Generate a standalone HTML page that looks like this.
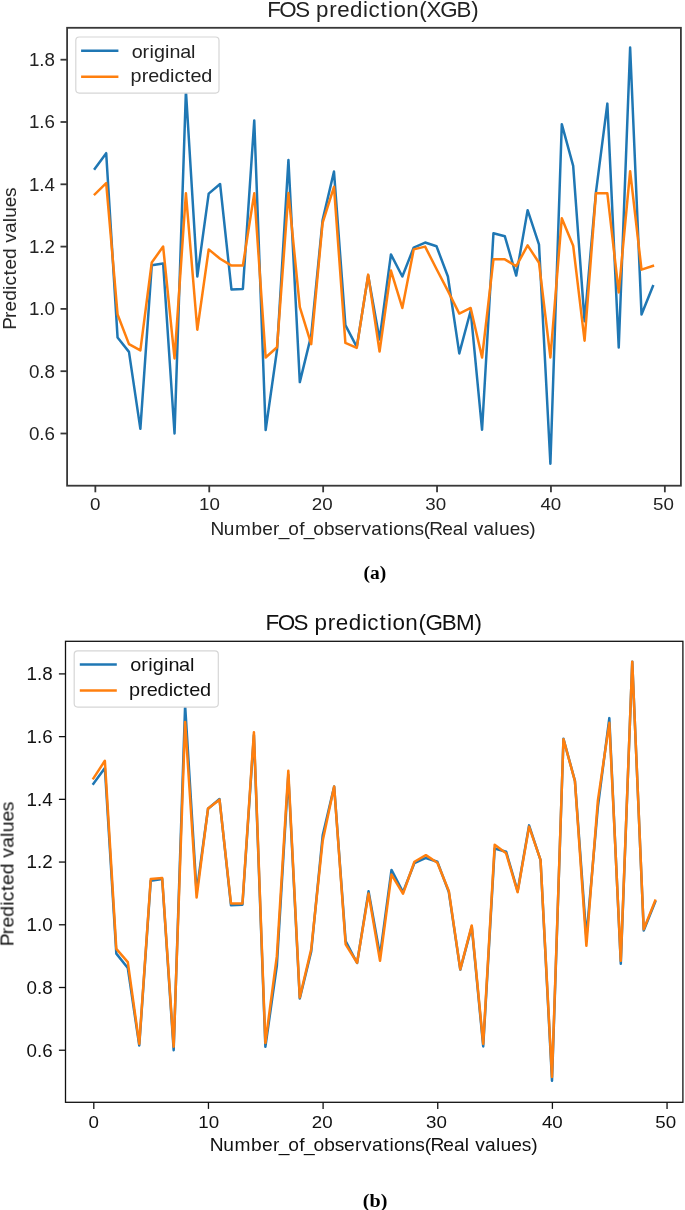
<!DOCTYPE html>
<html><head><meta charset="utf-8"><title>FOS prediction</title>
<style>html,body{margin:0;padding:0;background:#fff;} svg{display:block;}</style>
</head><body>
<svg width="685" height="1210" viewBox="0 0 685 1210">
<defs><filter id="soft" x="0" y="0" width="685" height="1210" filterUnits="userSpaceOnUse" color-interpolation-filters="sRGB"><feGaussianBlur stdDeviation="0.45"/></filter></defs>
<g filter="url(#soft)">
<rect width="685" height="1210" fill="#fff"/>
<clipPath id="clip1"><rect x="67.1" y="27.8" width="613.8" height="457.9"/></clipPath>
<polyline clip-path="url(#clip1)" points="94.80,168.73 106.19,153.15 117.58,337.56 128.97,351.89 140.36,428.83 151.75,265.29 163.14,263.42 174.53,433.50 185.92,90.85 197.31,276.50 208.70,193.64 220.09,183.99 231.48,289.59 242.87,288.96 254.26,120.44 265.65,430.07 277.04,349.71 288.43,160.00 299.82,382.10 311.21,335.38 322.60,220.12 333.99,171.53 345.38,325.10 356.77,346.90 368.16,275.57 379.55,339.43 390.94,254.39 402.33,276.50 413.72,247.53 425.11,242.55 436.50,246.29 447.89,276.50 459.28,353.44 470.67,310.77 482.06,429.76 493.45,233.21 504.84,236.32 516.23,275.57 527.62,210.15 539.01,244.73 550.40,463.72 561.79,124.18 573.18,165.92 584.57,321.36 595.96,192.09 607.35,103.62 618.74,347.53 630.13,47.55 641.52,314.51 652.91,286.16" fill="none" stroke="#1f77b4" stroke-width="2.5" stroke-linejoin="round" stroke-linecap="square"/>
<polyline clip-path="url(#clip1)" points="94.80,194.27 106.19,183.05 117.58,314.51 128.97,344.10 140.36,350.33 151.75,262.49 163.14,246.60 174.53,358.43 185.92,193.33 197.31,329.77 208.70,249.40 220.09,258.75 231.48,265.60 242.87,265.60 254.26,193.33 265.65,357.49 277.04,347.21 288.43,193.02 299.82,307.03 311.21,344.10 322.60,222.93 333.99,186.79 345.38,342.85 356.77,347.84 368.16,274.63 379.55,351.58 390.94,270.59 402.33,307.97 413.72,249.40 425.11,246.60 436.50,269.03 447.89,290.83 459.28,313.57 470.67,307.97 482.06,357.49 493.45,259.37 504.84,259.37 516.23,266.22 527.62,245.35 539.01,262.80 550.40,357.49 561.79,218.25 573.18,245.67 584.57,340.67 595.96,193.33 607.35,193.33 618.74,292.39 630.13,171.22 641.52,269.65 652.91,265.91" fill="none" stroke="#ff7f0e" stroke-width="2.5" stroke-linejoin="round" stroke-linecap="square"/>
<rect x="75.8" y="37.0" width="143.2" height="56.099999999999994" rx="3.5" ry="3.5" fill="#fff" fill-opacity="1" stroke="#d6d6d6" stroke-width="1.2"/>
<line x1="81.1" x2="118.4" y1="50.8" y2="50.8" stroke="#1f77b4" stroke-width="2.5" stroke-linecap="butt"/>
<line x1="81.1" x2="118.4" y1="76.7" y2="76.7" stroke="#ff7f0e" stroke-width="2.5" stroke-linecap="butt"/>
<text transform="scale(1.0965,1)" x="120.09 130.04 136.39 140.46 150.55 154.63 164.30 174.22" y="57.60" font-family="'Liberation Sans', sans-serif" font-size="18.00" fill="#222">original</text>
<text transform="scale(1.1007,1)" x="118.62 128.75 134.72 144.43 154.52 158.45 167.77 173.09 182.80" y="82.20" font-family="'Liberation Sans', sans-serif" font-size="18.00" fill="#222">predicted</text>
<rect x="67.1" y="27.8" width="613.8" height="457.9" fill="none" stroke="#383838" stroke-width="1.8" stroke-linejoin="miter"/>
<line x1="95.35" x2="95.35" y1="485.7" y2="492.3" stroke="#383838" stroke-width="1.8"/>
<text transform="scale(1.0908,1)" x="82.63" y="510.50" font-family="'Liberation Sans', sans-serif" font-size="17.20" fill="#222">0</text>
<line x1="209.25" x2="209.25" y1="485.7" y2="492.3" stroke="#383838" stroke-width="1.8"/>
<text transform="scale(1.0908,1)" x="182.45 192.02" y="510.50" font-family="'Liberation Sans', sans-serif" font-size="17.20" fill="#222">10</text>
<line x1="323.15" x2="323.15" y1="485.7" y2="492.3" stroke="#383838" stroke-width="1.8"/>
<text transform="scale(1.0908,1)" x="285.91 295.48" y="510.50" font-family="'Liberation Sans', sans-serif" font-size="17.20" fill="#222">20</text>
<line x1="437.05" x2="437.05" y1="485.7" y2="492.3" stroke="#383838" stroke-width="1.8"/>
<text transform="scale(1.0908,1)" x="389.92 399.49" y="510.50" font-family="'Liberation Sans', sans-serif" font-size="17.20" fill="#222">30</text>
<line x1="550.95" x2="550.95" y1="485.7" y2="492.3" stroke="#383838" stroke-width="1.8"/>
<text transform="scale(1.0908,1)" x="495.44 505.01" y="510.50" font-family="'Liberation Sans', sans-serif" font-size="17.20" fill="#222">40</text>
<line x1="664.85" x2="664.85" y1="485.7" y2="492.3" stroke="#383838" stroke-width="1.8"/>
<text transform="scale(1.0908,1)" x="598.67 608.24" y="510.50" font-family="'Liberation Sans', sans-serif" font-size="17.20" fill="#222">50</text>
<line x1="60.49999999999999" x2="67.1" y1="433.50" y2="433.50" stroke="#383838" stroke-width="1.8"/>
<text transform="scale(1.0540,1)" x="27.44 37.34 42.28" y="439.88" font-family="'Liberation Sans', sans-serif" font-size="17.80" fill="#222">0.6</text>
<line x1="60.49999999999999" x2="67.1" y1="371.20" y2="371.20" stroke="#383838" stroke-width="1.8"/>
<text transform="scale(1.0540,1)" x="27.44 37.34 42.28" y="377.58" font-family="'Liberation Sans', sans-serif" font-size="17.80" fill="#222">0.8</text>
<line x1="60.49999999999999" x2="67.1" y1="308.90" y2="308.90" stroke="#383838" stroke-width="1.8"/>
<text transform="scale(1.0540,1)" x="27.44 37.34 42.28" y="315.28" font-family="'Liberation Sans', sans-serif" font-size="17.80" fill="#222">1.0</text>
<line x1="60.49999999999999" x2="67.1" y1="246.60" y2="246.60" stroke="#383838" stroke-width="1.8"/>
<text transform="scale(1.0540,1)" x="27.44 37.34 42.28" y="252.98" font-family="'Liberation Sans', sans-serif" font-size="17.80" fill="#222">1.2</text>
<line x1="60.49999999999999" x2="67.1" y1="184.30" y2="184.30" stroke="#383838" stroke-width="1.8"/>
<text transform="scale(1.0540,1)" x="27.44 37.34 42.28" y="190.68" font-family="'Liberation Sans', sans-serif" font-size="17.80" fill="#222">1.4</text>
<line x1="60.49999999999999" x2="67.1" y1="122.00" y2="122.00" stroke="#383838" stroke-width="1.8"/>
<text transform="scale(1.0540,1)" x="27.44 37.34 42.28" y="128.38" font-family="'Liberation Sans', sans-serif" font-size="17.80" fill="#222">1.6</text>
<line x1="60.49999999999999" x2="67.1" y1="59.70" y2="59.70" stroke="#383838" stroke-width="1.8"/>
<text transform="scale(1.0540,1)" x="27.44 37.34 42.28" y="66.08" font-family="'Liberation Sans', sans-serif" font-size="17.80" fill="#222">1.8</text>
<text transform="scale(1.0281,1)" x="259.96 271.73 287.11 300.83 307.31 320.16 327.97 340.43 353.16 358.39 370.20 377.48 382.73 395.15 407.78 414.87 428.23 444.00 458.35" y="16.80" font-family="'Liberation Sans', sans-serif" font-size="21.70" fill="#222">FOS prediction(XGB)</text>
<text transform="scale(1.0521,1)" x="200.03 212.78 223.36 238.97 249.15 259.52 264.92 273.97 284.34 288.76 297.81 307.96 317.88 326.62 337.00 343.65 352.95 363.65 369.61 373.83 383.97 393.88 402.81 408.12 420.29 430.29 440.57 444.91 450.31 459.61 469.88 474.28 484.45 494.21 503.14" y="534.60" font-family="'Liberation Sans', sans-serif" font-size="18.10" fill="#222">Number_of_observations(Real values)</text>
<g transform="translate(16.0,326.8) rotate(-90)"><text transform="scale(1.0506,1)" x="-2.76 8.43 14.68 24.76 35.13 39.29 48.88 54.48 64.55 74.75 80.07 89.26 99.46 103.78 113.85 123.51" y="0.00" font-family="'Liberation Sans', sans-serif" font-size="18.10" fill="#222">Predicted values</text></g>
<text x="363.54" y="578.60" font-family="'Liberation Serif', serif" font-size="18.20" font-weight="bold" fill="#000" textLength="22.71" lengthAdjust="spacingAndGlyphs">(a)</text>
<clipPath id="clip2"><rect x="65.5" y="641.3" width="617.4" height="461.0"/></clipPath>
<polyline clip-path="url(#clip2)" points="93.40,783.66 104.87,767.98 116.33,953.63 127.80,968.06 139.26,1045.52 150.73,880.88 162.19,878.99 173.66,1050.22 185.12,705.26 196.59,892.17 208.05,808.75 219.51,799.03 230.98,905.34 242.44,904.71 253.91,735.05 265.38,1046.77 276.84,965.86 288.31,774.88 299.77,998.48 311.24,951.44 322.70,835.40 334.16,786.48 345.63,941.09 357.10,963.04 368.56,891.22 380.02,955.51 391.49,869.90 402.96,892.17 414.42,863.00 425.88,857.98 437.35,861.75 448.82,892.17 460.28,969.62 471.75,926.66 483.21,1046.46 494.67,848.58 506.14,851.71 517.61,891.22 529.07,825.37 540.53,860.18 552.00,1080.64 563.47,738.82 574.93,780.84 586.39,937.32 597.86,807.18 609.32,718.12 620.79,963.67 632.25,661.67 643.72,930.42 655.18,901.89" fill="none" stroke="#1f77b4" stroke-width="2.5" stroke-linejoin="round" stroke-linecap="square"/>
<polyline clip-path="url(#clip2)" points="93.40,778.33 104.87,760.77 116.33,948.93 127.80,962.10 139.26,1043.95 150.73,878.99 162.19,878.05 173.66,1046.77 185.12,721.88 196.59,897.50 208.05,808.43 219.51,799.65 230.98,903.46 242.44,903.46 253.91,732.23 265.38,1043.01 276.84,956.14 288.31,770.80 299.77,997.54 311.24,948.93 322.70,840.74 334.16,786.48 345.63,944.22 357.10,962.73 368.56,893.42 380.02,960.84 391.49,874.60 402.96,893.73 414.42,861.75 425.88,855.16 437.35,862.69 448.82,890.91 460.28,969.31 471.75,925.41 483.21,1043.95 494.67,844.81 506.14,853.28 517.61,892.17 529.07,826.62 540.53,859.86 552.00,1076.88 563.47,739.13 574.93,781.15 586.39,945.79 597.86,800.59 609.32,722.82 620.79,960.84 632.25,661.67 643.72,929.17 655.18,900.63" fill="none" stroke="#ff7f0e" stroke-width="2.5" stroke-linejoin="round" stroke-linecap="square"/>
<rect x="74.2" y="650.8" width="144.10000000000002" height="56.30000000000007" rx="3.5" ry="3.5" fill="#fff" fill-opacity="1" stroke="#d6d6d6" stroke-width="1.2"/>
<line x1="79.8" x2="116.8" y1="664.5" y2="664.5" stroke="#1f77b4" stroke-width="2.5" stroke-linecap="butt"/>
<line x1="79.8" x2="116.8" y1="690.5" y2="690.5" stroke="#ff7f0e" stroke-width="2.5" stroke-linecap="butt"/>
<text transform="scale(1.1037,1)" x="118.03 127.98 134.33 138.41 148.50 152.57 162.25 172.17" y="670.60" font-family="'Liberation Sans', sans-serif" font-size="18.00" fill="#111">original</text>
<text transform="scale(1.1063,1)" x="116.56 126.70 132.66 142.37 152.47 156.40 165.71 171.04 180.75" y="696.20" font-family="'Liberation Sans', sans-serif" font-size="18.00" fill="#111">predicted</text>
<rect x="65.5" y="641.3" width="617.4" height="461.0" fill="none" stroke="#111" stroke-width="1.3" stroke-linejoin="miter"/>
<line x1="93.80" x2="93.80" y1="1102.3" y2="1108.8999999999999" stroke="#111" stroke-width="1.3"/>
<text transform="scale(1.0908,1)" x="81.21" y="1127.70" font-family="'Liberation Sans', sans-serif" font-size="17.20" fill="#111">0</text>
<line x1="208.45" x2="208.45" y1="1102.3" y2="1108.8999999999999" stroke="#111" stroke-width="1.3"/>
<text transform="scale(1.0908,1)" x="181.72 191.29" y="1127.70" font-family="'Liberation Sans', sans-serif" font-size="17.20" fill="#111">10</text>
<line x1="323.10" x2="323.10" y1="1102.3" y2="1108.8999999999999" stroke="#111" stroke-width="1.3"/>
<text transform="scale(1.0908,1)" x="285.87 295.43" y="1127.70" font-family="'Liberation Sans', sans-serif" font-size="17.20" fill="#111">20</text>
<line x1="437.75" x2="437.75" y1="1102.3" y2="1108.8999999999999" stroke="#111" stroke-width="1.3"/>
<text transform="scale(1.0908,1)" x="390.56 400.13" y="1127.70" font-family="'Liberation Sans', sans-serif" font-size="17.20" fill="#111">30</text>
<line x1="552.40" x2="552.40" y1="1102.3" y2="1108.8999999999999" stroke="#111" stroke-width="1.3"/>
<text transform="scale(1.0908,1)" x="496.77 506.34" y="1127.70" font-family="'Liberation Sans', sans-serif" font-size="17.20" fill="#111">40</text>
<line x1="667.05" x2="667.05" y1="1102.3" y2="1108.8999999999999" stroke="#111" stroke-width="1.3"/>
<text transform="scale(1.0908,1)" x="600.69 610.25" y="1127.70" font-family="'Liberation Sans', sans-serif" font-size="17.20" fill="#111">50</text>
<line x1="58.9" x2="65.5" y1="1050.22" y2="1050.22" stroke="#111" stroke-width="1.3"/>
<text transform="scale(1.0540,1)" x="25.16 35.06 40.00" y="1056.60" font-family="'Liberation Sans', sans-serif" font-size="17.80" fill="#111">0.6</text>
<line x1="58.9" x2="65.5" y1="987.50" y2="987.50" stroke="#111" stroke-width="1.3"/>
<text transform="scale(1.0540,1)" x="25.16 35.06 40.00" y="993.88" font-family="'Liberation Sans', sans-serif" font-size="17.80" fill="#111">0.8</text>
<line x1="58.9" x2="65.5" y1="924.78" y2="924.78" stroke="#111" stroke-width="1.3"/>
<text transform="scale(1.0540,1)" x="25.16 35.06 40.00" y="931.16" font-family="'Liberation Sans', sans-serif" font-size="17.80" fill="#111">1.0</text>
<line x1="58.9" x2="65.5" y1="862.06" y2="862.06" stroke="#111" stroke-width="1.3"/>
<text transform="scale(1.0540,1)" x="25.16 35.06 40.00" y="868.44" font-family="'Liberation Sans', sans-serif" font-size="17.80" fill="#111">1.2</text>
<line x1="58.9" x2="65.5" y1="799.34" y2="799.34" stroke="#111" stroke-width="1.3"/>
<text transform="scale(1.0540,1)" x="25.16 35.06 40.00" y="805.72" font-family="'Liberation Sans', sans-serif" font-size="17.80" fill="#111">1.4</text>
<line x1="58.9" x2="65.5" y1="736.62" y2="736.62" stroke="#111" stroke-width="1.3"/>
<text transform="scale(1.0540,1)" x="25.16 35.06 40.00" y="743.00" font-family="'Liberation Sans', sans-serif" font-size="17.80" fill="#111">1.6</text>
<line x1="58.9" x2="65.5" y1="673.90" y2="673.90" stroke="#111" stroke-width="1.3"/>
<text transform="scale(1.0540,1)" x="25.16 35.06 40.00" y="680.28" font-family="'Liberation Sans', sans-serif" font-size="17.80" fill="#111">1.8</text>
<text transform="scale(1.0345,1)" x="256.61 268.38 283.77 297.49 303.97 316.83 324.64 337.11 349.83 355.07 366.88 374.16 379.41 391.84 404.47 411.26 427.04 440.68 458.60" y="630.30" font-family="'Liberation Sans', sans-serif" font-size="21.70" fill="#111">FOS prediction(GBM)</text>
<text transform="scale(1.0600,1)" x="197.96 210.72 221.30 236.91 247.09 257.46 262.86 271.91 282.28 286.70 295.75 305.90 315.82 324.56 334.94 341.59 350.89 361.59 367.55 371.77 381.91 391.82 400.75 406.06 418.23 428.23 438.50 442.85 448.25 457.54 467.82 472.22 482.39 492.15 501.08" y="1151.40" font-family="'Liberation Sans', sans-serif" font-size="18.10" fill="#111">Number_of_observations(Real values)</text>
<g transform="translate(13.5,943.3) rotate(-90)"><text transform="scale(1.0696,1)" x="-2.76 8.43 14.68 24.76 35.13 39.29 48.88 54.48 64.55 74.75 80.07 89.26 99.46 103.78 113.85 123.51" y="0.00" font-family="'Liberation Sans', sans-serif" font-size="18.10" fill="#111">Predicted values</text></g>
<text x="362.82" y="1206.50" font-family="'Liberation Serif', serif" font-size="18.20" font-weight="bold" fill="#000" textLength="24.57" lengthAdjust="spacingAndGlyphs">(b)</text>
</g>
</svg>
</body></html>
